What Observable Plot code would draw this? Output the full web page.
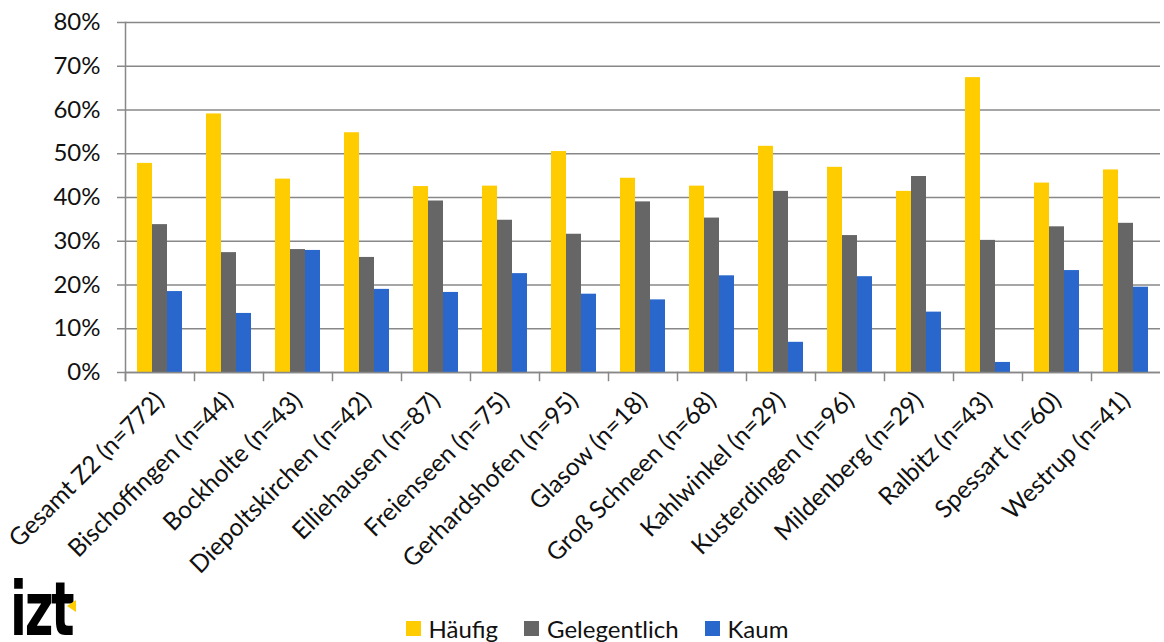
<!DOCTYPE html>
<html><head><meta charset="utf-8">
<script src="https://cdn.jsdelivr.net/npm/d3@7"></script>
<script src="https://cdn.jsdelivr.net/npm/@observablehq/plot@0.6"></script>
<style>
body{margin:0;background:#fff;font-family:Lato,"Open Sans",sans-serif;}
#wrap{position:relative;width:1164px;height:642px;overflow:hidden;}
#legend{position:absolute;left:0;top:614px;width:1164px;display:flex;justify-content:center;align-items:center;font-size:24px;color:#111;padding-left:30px;box-sizing:border-box;}
.item{display:flex;align-items:center;margin:0 13px;}
.sw{width:15px;height:15px;margin-right:8px;}
#logo{position:absolute;left:10px;top:572px;font-family:"DejaVu Sans Condensed","DejaVu Sans",sans-serif;font-weight:bold;font-size:74px;letter-spacing:-3px;color:#000;line-height:1;transform:scaleX(0.74);transform-origin:0 0;}
#tri{position:absolute;left:67px;top:600px;width:0;height:0;border-top:6px solid transparent;border-bottom:6px solid transparent;border-right:9px solid #FFCC00;}
</style></head><body>
<div id="wrap"><div id="chart"></div><div id="legend"></div><div id="logo">izt</div><div id="tri"></div></div>
<script>
const places = ["Gesamt Z2 (n=772)","Bischoffingen (n=44)","Bockholte (n=43)","Diepoltskirchen (n=42)","Elliehausen (n=87)","Freienseen (n=75)","Gerhardshofen (n=95)","Glasow (n=18)","Groß Schneen (n=68)","Kahlwinkel (n=29)","Kusterdingen (n=96)","Mildenberg (n=29)","Ralbitz (n=43)","Spessart (n=60)","Westrup (n=41)"];
const haeufig      = [47.8, 59.1, 44.2, 54.8, 42.5, 42.6, 50.5, 44.4, 42.6, 51.7, 46.9, 41.4, 67.4, 43.3, 46.3];
const gelegentlich = [33.8, 27.4, 28.1, 26.3, 39.2, 34.8, 31.6, 39.0, 35.3, 41.4, 31.3, 44.8, 30.2, 33.3, 34.1];
const kaum         = [18.5, 13.5, 27.9, 19.0, 18.3, 22.6, 17.9, 16.6, 22.1,  6.9, 21.9, 13.8,  2.3, 23.3, 19.5];
const seriesNames = ["Häufig","Gelegentlich","Kaum"];
const colors = ["#FFCC00","#666666","#2967CC"];
const yTicks = [0,10,20,30,40,50,60,70,80];

const seriesValues = [haeufig, gelegentlich, kaum];
const data = places.flatMap((p,i)=>seriesNames.map((s,j)=>({place:p, series:s, value:seriesValues[j][i]})));

const gridColor = "#888888";
const chart = Plot.plot({
  width:1164, height:600,
  marginLeft:125, marginRight:4, marginTop:22, marginBottom:228,
  style:{fontFamily:"Lato, 'Open Sans', sans-serif", fontSize:"24px", color:"#111", background:"#fff"},
  fx:{domain:places, padding:0, label:null},
  x:{domain:seriesNames, paddingInner:0, paddingOuter:0.726, axis:null},
  y:{domain:[0,80], label:null},
  color:{domain:seriesNames, range:colors},
  marks:[
    Plot.gridY(yTicks,{stroke:gridColor, strokeOpacity:1, strokeWidth:1.5}),
    Plot.barY(data,{fx:"place", x:"series", y:"value", fill:"series"}),
    Plot.frame({anchor:"left", facetAnchor:"left", stroke:gridColor, strokeWidth:1.5, insetBottom:-8}),
    Plot.frame({anchor:"left", stroke:gridColor, strokeWidth:1.5, insetTop:350, insetBottom:-8}),
    Plot.ruleY([0],{stroke:gridColor, strokeWidth:1.5}),
    Plot.axisY(yTicks,{tickFormat:d=>d+"%", tickSize:8, tickPadding:17, stroke:gridColor, strokeWidth:1.5, fontSize:24, label:null}),
    Plot.axisFx({anchor:"bottom", tickRotate:-45, tickSize:0, tickPadding:24, fontSize:24.5, label:null})
  ]
});
document.getElementById("chart").appendChild(chart);

const legend = document.getElementById("legend");
seriesNames.forEach((s,i)=>{
  const it = document.createElement("div"); it.className="item";
  const sw = document.createElement("div"); sw.className="sw"; sw.style.background=colors[i];
  const t = document.createElement("span"); t.textContent=s;
  it.appendChild(sw); it.appendChild(t); legend.appendChild(it);
});
</script>
</body></html>
